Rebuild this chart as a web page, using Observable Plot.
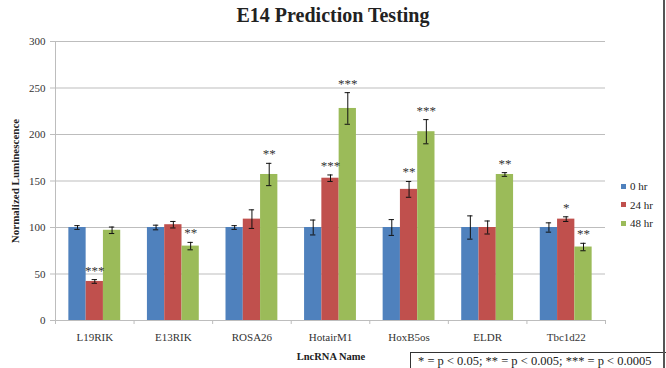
<!DOCTYPE html>
<html>
<head>
<meta charset="utf-8">
<script src="https://cdn.jsdelivr.net/npm/d3@7"></script>
<script src="https://cdn.jsdelivr.net/npm/@observablehq/plot@0.6"></script>
<style>
  html, body { margin: 0; padding: 0; background: #fff; }
  #chart { position: relative; width: 666px; height: 368px; overflow: hidden; font-family: "Liberation Serif", serif; color: #222; }
  #chart svg { position: absolute; left: 0; top: 0; }
  .title { position: absolute; left: 0; width: 666px; top: 4px; text-align: center; font-weight: bold; font-size: 20px; }
  .ylabel { position: absolute; left: 15px; top: 181px; transform: translate(-50%, -50%) rotate(-90deg); white-space: nowrap; font-weight: bold; font-size: 11px; }
  .xlabel { position: absolute; left: 331px; top: 351px; transform: translateX(-50%); font-weight: bold; font-size: 10.5px; white-space: nowrap; }
  .legend { position: absolute; left: 621px; top: 177px; font-size: 11px; }
  .legend div { height: 18.5px; display: flex; align-items: center; }
  .legend span.sw { display: inline-block; width: 5px; height: 5px; margin-right: 4px; }
  .note { position: absolute; left: 410px; top: 352px; width: 260px; height: 30px; border: 1px solid #333; box-sizing: border-box; font-size: 12.5px; line-height: 14px; padding: 1px 0 0 7px; white-space: nowrap; }
  .edge { position: absolute; left: 663px; top: 0; width: 1.5px; height: 368px; background: #555; }
</style>
</head>
<body>
<div id="chart">
  <div class="title">E14 Prediction Testing</div>
</div>
<script>
// Luminescence per lncRNA, normalized to 0 hr = 100
const categories = ["L19RIK", "E13RIK", "ROSA26", "HotairM1", "HoxB5os", "ELDR", "Tbc1d22"];
const series = ["0 hr", "24 hr", "48 hr"];
const colors = ["#4F81BD", "#C0504D", "#9BBB59"];

const values0h = [100, 100, 100, 100, 100, 100, 100];
const values24h = [42, 103, 109, 153, 141, 100, 109];
const values48h = [97, 80, 157, 228, 203, 157, 79];

const err0h = [2, 2.5, 2, 8, 8.5, 12.5, 5];
const err24h = [2, 3.5, 10, 3.5, 8.5, 7, 2.5];
const err48h = [3.5, 4, 12, 17, 13, 2, 4];

const sig0h = ["", "", "", "", "", "", ""];
const sig24h = ["***", "", "", "***", "**", "", "*"];
const sig48h = ["", "**", "**", "***", "***", "**", "**"];

const yTicks = [0, 50, 100, 150, 200, 250, 300];
const footnote = "* = p < 0.05; ** = p < 0.005; *** = p < 0.0005";

// one row per bar
const valueSets = [values0h, values24h, values48h];
const errSets = [err0h, err24h, err48h];
const sigSets = [sig0h, sig24h, sig48h];
const rows = [];
categories.forEach((category, i) => {
  series.forEach((s, j) => {
    rows.push({category, series: s, i, j, value: valueSets[j][i], err: errSets[j][i], sig: sigSets[j][i]});
  });
});

// each category occupies one unit of x; three adjacent bars are centred in it
const barW = 0.22;
const center = d => d.i + 0.5 + (d.j - 1) * barW;
const capHalf = 0.034;
const gridColor = "#bdbdbd";

const plot = Plot.plot({
  width: 666,
  height: 368,
  marginLeft: 55,
  marginRight: 61,
  marginTop: 41,
  marginBottom: 48,
  style: {fontFamily: "Liberation Serif, serif", fontSize: "11px", color: "#333", background: "transparent"},
  x: {domain: [0, categories.length], axis: null, label: null},
  y: {domain: [0, 300], axis: null, label: null},
  color: {domain: series, range: colors},
  marks: [
    Plot.ruleY(yTicks, {stroke: gridColor, strokeWidth: 1}),
    Plot.ruleX([0], {y1: 0, y2: 300, stroke: gridColor}),
    Plot.axisY({ticks: yTicks, tickSize: 5, tickPadding: 5, stroke: gridColor, fontSize: 11, fill: "#333", label: null}),
    Plot.axisX({ticks: d3.range(0, categories.length + 1), tickSize: 4, tickFormat: () => "", stroke: gridColor, label: null}),
    Plot.axisX({ticks: categories.map((_, i) => i + 0.5), tickSize: 0, tickPadding: 13,
                tickFormat: v => categories[Math.floor(v)], fontSize: 11, fill: "#333", label: null}),
    Plot.rectY(rows, {
      x1: d => center(d) - barW / 2,
      x2: d => center(d) + barW / 2,
      y1: 0,
      y2: "value",
      fill: "series"
    }),
    // error bars with caps
    Plot.ruleX(rows, {x: center, y1: d => d.value - d.err, y2: d => d.value + d.err, stroke: "#111", strokeWidth: 1}),
    Plot.ruleY(rows, {x1: d => center(d) - capHalf, x2: d => center(d) + capHalf, y: d => d.value + d.err, stroke: "#111"}),
    Plot.ruleY(rows, {x1: d => center(d) - capHalf, x2: d => center(d) + capHalf, y: d => d.value - d.err, stroke: "#111"}),
    // significance stars
    Plot.text(rows.filter(d => d.sig), {
      x: center,
      y: d => d.value + d.err,
      text: "sig",
      dy: -5,
      fontSize: 13,
      fill: "#333",
      lineAnchor: "bottom"
    })
  ]
});

const chart = document.getElementById("chart");
chart.insertBefore(plot, chart.firstChild);

const ylab = document.createElement("div");
ylab.className = "ylabel";
ylab.textContent = "Normalized Luminescence";
chart.appendChild(ylab);

const xlab = document.createElement("div");
xlab.className = "xlabel";
xlab.textContent = "LncRNA Name";
chart.appendChild(xlab);

const legend = document.createElement("div");
legend.className = "legend";
series.forEach((s, j) => {
  const row = document.createElement("div");
  const sw = document.createElement("span");
  sw.className = "sw";
  sw.style.background = colors[j];
  row.appendChild(sw);
  row.appendChild(document.createTextNode(s));
  legend.appendChild(row);
});
chart.appendChild(legend);

const note = document.createElement("div");
note.className = "note";
note.textContent = footnote;
chart.appendChild(note);

const edge = document.createElement("div");
edge.className = "edge";
chart.appendChild(edge);
</script>
</body>
</html>
